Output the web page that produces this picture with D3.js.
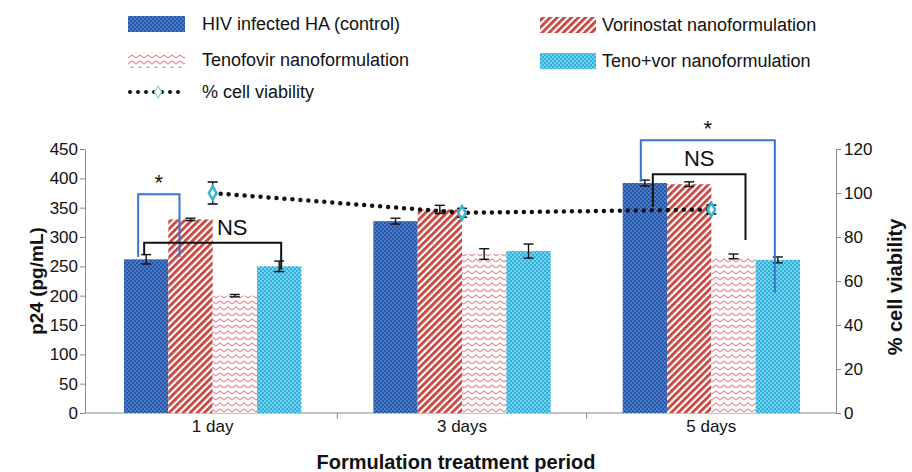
<!DOCTYPE html>
<html><head><meta charset="utf-8">
<script src="https://cdn.jsdelivr.net/npm/d3@7"></script>
<style>body{margin:0;background:#fff}svg{display:block;font-family:"Liberation Sans",Arial,sans-serif}</style>
</head><body><svg id="c" width="912" height="472"></svg>
<script>
const categories = ["1 day", "3 days", "5 days"];
const seriesNames = ["HIV infected HA (control)", "Vorinostat nanoformulation", "Tenofovir nanoformulation", "Teno+vor nanoformulation"];
const controlVals = [262, 327, 392];
const vorinostatVals = [330, 347, 390];
const tenofovirVals = [200, 271, 267];
const tenovorVals = [250, 276, 261];
const controlErr = [8, 5, 5];
const vorinostatErr = [2, 7, 4];
const tenofovirErr = [2, 9, 4];
const tenovorErr = [9, 12, 5];
const viability = [100, 91, 92.5];
const viabilityErr = [5, 2, 2];
const leftTicks = [0, 50, 100, 150, 200, 250, 300, 350, 400, 450];
const rightTicks = [0, 20, 40, 60, 80, 100, 120];
// significance annotations
const sigCategory = ["1 day", "1 day", "5 days", "5 days"];
const sigLeft = [0, 0, 0, 0];
const sigRight = [1, 3, 3, 2];
const sigLeftBottom = [266, 269, 394, 351];
const sigTop = [373, 290, 465, 407];
const sigRightBottom = [266, 244, 205, 295];
const sigLabel = ["*", "NS", "*", "NS"];

const seriesVals = [controlVals, vorinostatVals, tenofovirVals, tenovorVals];
const seriesErr = [controlErr, vorinostatErr, tenofovirErr, tenovorErr];

const svg = d3.select("#c");
const defs = svg.append("defs");
function dotPattern(id, bg, dot) {
  const p = defs.append("pattern").attr("id", id).attr("patternUnits", "userSpaceOnUse").attr("width", 4).attr("height", 4);
  p.append("rect").attr("width", 4).attr("height", 4).attr("fill", bg);
  p.append("rect").attr("x", 0).attr("y", 0).attr("width", 2).attr("height", 2).attr("fill", dot);
  p.append("rect").attr("x", 2).attr("y", 2).attr("width", 2).attr("height", 2).attr("fill", dot);
}
dotPattern("pBlue", "#2a56a6", "#4a7cc9");
dotPattern("pCyan", "#2fb0d8", "#74d2ee");
{
  const p = defs.append("pattern").attr("id", "pRed").attr("patternUnits", "userSpaceOnUse").attr("width", 5).attr("height", 5).attr("patternTransform", "rotate(45)");
  p.append("rect").attr("width", 5).attr("height", 5).attr("fill", "#fff");
  p.append("rect").attr("x", 0).attr("y", 0).attr("width", 2.8).attr("height", 5).attr("fill", "#c8443f");
}
{
  const p = defs.append("pattern").attr("id", "pPink").attr("patternUnits", "userSpaceOnUse").attr("width", 8).attr("height", 6);
  p.append("rect").attr("width", 8).attr("height", 6).attr("fill", "#fff");
  p.append("path").attr("d", "M0,4 L4,1 L8,4").attr("fill", "none").attr("stroke", "#ec8f9a").attr("stroke-width", 1.3);
}
const fills = ["url(#pBlue)", "url(#pRed)", "url(#pPink)", "url(#pCyan)"];

const x0 = d3.scaleBand().domain(categories).range([88, 836]);
const bw = x0.bandwidth();
const x1 = d3.scaleBand().domain(d3.range(4)).range([36, bw - 36]);
const yL = d3.scaleLinear().domain([0, 450]).range([413, 149]);
const yR = d3.scaleLinear().domain([0, 120]).range([413, 149]);

const axisColor = "#8a8a8a";
const gL = svg.append("g").attr("transform", "translate(85,0)")
  .call(d3.axisLeft(yL).tickValues(leftTicks).tickSize(5).tickSizeOuter(0));
const gR = svg.append("g").attr("transform", "translate(836,0)")
  .call(d3.axisRight(yR).tickValues(rightTicks).tickSize(5).tickSizeOuter(0));
const gX = svg.append("g").attr("transform", "translate(0,413)");
gX.append("line").attr("x1", 85).attr("x2", 836).attr("stroke", axisColor);
gX.selectAll("line.t").data(categories.slice(1)).join("line").attr("class", "t")
  .attr("x1", d => x0(d)).attr("x2", d => x0(d)).attr("y1", 0).attr("y2", 6).attr("stroke", axisColor);
gX.selectAll("text").data(categories).join("text")
  .attr("x", d => x0(d) + bw / 2).attr("y", 19).attr("text-anchor", "middle")
  .attr("font-size", 17).attr("fill", "#111").text(d => d);
[gL, gR].forEach(g => {
  g.selectAll("path,line").attr("stroke", axisColor);
  g.selectAll("text").attr("font-size", 17).attr("fill", "#111").attr("font-family", "Liberation Sans, Arial, sans-serif");
});
gL.selectAll("text").attr("x", -7);
gR.selectAll("text").attr("x", 8);

const rows = [];
categories.forEach((c, ci) => seriesVals.forEach((vals, si) => rows.push({c, ci, si, v: vals[ci], e: seriesErr[si][ci]})));
svg.append("g").selectAll("rect").data(rows).join("rect")
  .attr("x", d => x0(d.c) + x1(d.si)).attr("width", x1.bandwidth())
  .attr("y", d => yL(d.v)).attr("height", d => yL(0) - yL(d.v))
  .attr("fill", d => fills[d.si]);

const eg = svg.append("g").attr("stroke", "#111").attr("stroke-width", 1.4);
rows.forEach(d => {
  const cx = x0(d.c) + x1(d.si) + x1.bandwidth() / 2;
  eg.append("line").attr("x1", cx).attr("x2", cx).attr("y1", yL(d.v + d.e)).attr("y2", yL(d.v - d.e));
  eg.append("line").attr("x1", cx - 5).attr("x2", cx + 5).attr("y1", yL(d.v + d.e)).attr("y2", yL(d.v + d.e));
  eg.append("line").attr("x1", cx - 5).attr("x2", cx + 5).attr("y1", yL(d.v - d.e)).attr("y2", yL(d.v - d.e));
});

const sg = svg.append("g");
sigLabel.forEach((lab, i) => {
  const c = sigCategory[i];
  const star = lab === "*";
  const col = star ? "#3a74d0" : "#111";
  const offL = star ? (i === 0 ? -8 : -4) : (i === 1 ? -2 : 8);
  const offR = star ? (i === 0 ? -11 : -3) : (i === 1 ? 2 : 12);
  const xl = x0(c) + x1(sigLeft[i]) + x1.bandwidth() / 2 + offL;
  const xr = x0(c) + x1(sigRight[i]) + x1.bandwidth() / 2 + offR;
  const yt = yL(sigTop[i]);
  sg.append("path").attr("d", `M${xl},${yL(sigLeftBottom[i])}V${yt}H${xr}V${yL(sigRightBottom[i])}`)
    .attr("fill", "none").attr("stroke", col).attr("stroke-width", 2);
  if (star) {
    sg.append("text").attr("x", (xl + xr) / 2).attr("y", yt - 4).attr("text-anchor", "middle")
      .attr("font-size", 22).attr("fill", "#111").text("*");
  } else {
    sg.append("text").attr("x", i === 1 ? xl + 88 : (xl + xr) / 2).attr("y", yt - 8).attr("text-anchor", "middle")
      .attr("font-size", 22).attr("fill", "#111").text("NS");
  }
});

const vpts = categories.map((c, i) => ({x: x0(c) + bw / 2, v: viability[i], e: viabilityErr[i]}));
svg.append("path").datum(vpts)
  .attr("d", d3.line().x(d => d.x).y(d => yR(d.v)))
  .attr("fill", "none").attr("stroke", "#111").attr("stroke-width", 4.5)
  .attr("stroke-linecap", "round").attr("stroke-dasharray", "0 8");
const vg = svg.append("g");
vpts.forEach(d => {
  vg.append("line").attr("x1", d.x).attr("x2", d.x).attr("y1", yR(d.v + d.e)).attr("y2", yR(d.v - d.e)).attr("stroke", "#111").attr("stroke-width", 1.4);
  [d.v + d.e, d.v - d.e].forEach(v => vg.append("line").attr("x1", d.x - 5).attr("x2", d.x + 5).attr("y1", yR(v)).attr("y2", yR(v)).attr("stroke", "#111").attr("stroke-width", 1.6));
  vg.append("path").attr("d", d3.symbol(d3.symbolDiamond, 50)()).attr("transform", `translate(${d.x},${yR(d.v)})`)
    .attr("fill", "#fff").attr("stroke", "#35b3d3").attr("stroke-width", 2.5);
});

svg.append("text").attr("transform", "translate(43,281) rotate(-90)").attr("text-anchor", "middle")
  .attr("font-size", 19).attr("font-weight", "bold").attr("fill", "#111").text("p24 (pg/mL)");
svg.append("text").attr("transform", "translate(902,287) rotate(-90)").attr("text-anchor", "middle")
  .attr("font-size", 20).attr("font-weight", "bold").attr("fill", "#111").text("% cell viability");
svg.append("text").attr("x", 456).attr("y", 469).attr("text-anchor", "middle")
  .attr("font-size", 20).attr("font-weight", "bold").attr("fill", "#111").text("Formulation treatment period");

const legX = [128, 540, 128, 540];
const legY = [24, 25, 60, 61];
const lg = svg.append("g");
[0, 1, 2, 3].forEach(i => {
  lg.append("rect").attr("x", legX[i]).attr("y", legY[i] - 8).attr("width", i % 2 ? 56 : 57).attr("height", 16).attr("fill", fills[i]);
  lg.append("text").attr("x", legX[i] + (i % 2 ? 62 : 74)).attr("y", legY[i] + 6).attr("font-size", 18).attr("fill", "#111").text(seriesNames[i]);
});
lg.append("line").attr("x1", 130).attr("x2", 184).attr("y1", 92).attr("y2", 92)
  .attr("stroke", "#111").attr("stroke-width", 4).attr("stroke-linecap", "round").attr("stroke-dasharray", "0 8");
lg.append("path").attr("d", d3.symbol(d3.symbolDiamond, 40)()).attr("transform", "translate(158,92)")
  .attr("fill", "#fff").attr("stroke", "#9fd8e0").attr("stroke-width", 1.5);
lg.append("text").attr("x", 202).attr("y", 98).attr("font-size", 18).attr("fill", "#111").text("% cell viability");
</script></body></html>
